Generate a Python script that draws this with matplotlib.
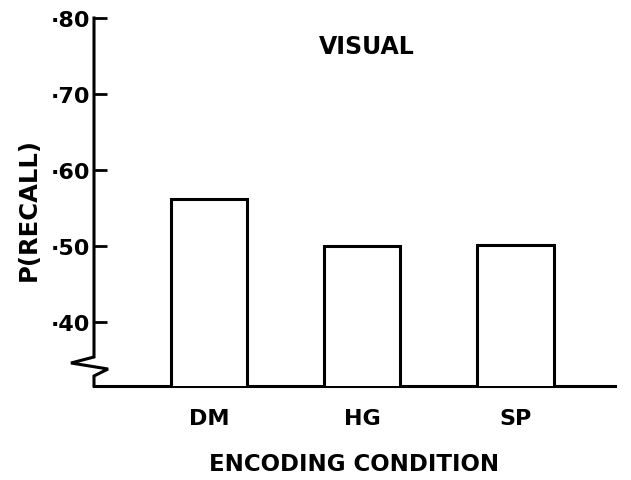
import matplotlib
matplotlib.use("Agg")
import matplotlib.pyplot as plt
import matplotlib.transforms as mtransforms

categories = ["DM", "HG", "SP"]
values = [0.562, 0.500, 0.501]
yticks = [0.40, 0.50, 0.60, 0.70, 0.80]
ytick_labels = ["·40", "·50", "·60", "·70", "·80"]

plt.rcParams['font.family'] = ['DejaVu Sans']
plt.rcParams['font.weight'] = 'bold'

fig = plt.figure(figsize=(6.31, 4.81), dpi=100)
ax = fig.add_axes([94/631, 1-387/481, (615-94)/631, (387-19)/481])

x = list(range(len(categories)))
ax.bar(x, values, width=0.5, facecolor='white', edgecolor='black', linewidth=2.2, zorder=3)

ax.set_xlim(-0.75, 2.65)
ax.set_ylim(0.3158, 0.80)

for s in ['top', 'right', 'left']:
    ax.spines[s].set_visible(False)
ax.spines['bottom'].set_linewidth(2.2)

# left axis with break squiggle
tr = mtransforms.blended_transform_factory(ax.transAxes, ax.transData)
H = 387 - 19
def yfrac(py):
    return 0.80 - (py - 19) / H * (0.80 - 0.3158)
W = 615 - 94
def xfrac(px):
    return (px - 94) / W
px = [94, 94, 71, 108, 94, 94]
py = [19, 358, 364, 370, 377, 387]
ax.plot([xfrac(p) for p in px], [yfrac(p) for p in py], transform=tr,
        color='black', lw=2.2, clip_on=False, solid_joinstyle='miter', zorder=4)

ax.set_yticks(yticks)
ax.set_yticklabels(ytick_labels, fontsize=16, fontweight='bold')
ax.tick_params(axis='y', direction='in', length=9, width=2, pad=3)
ax.set_xticks(x)
ax.set_xticklabels(categories, fontsize=16, fontweight='bold')
ax.tick_params(axis='x', length=0, pad=16)

ax.set_xlabel("ENCODING CONDITION", fontsize=16.5, fontweight='bold')
ax.xaxis.set_label_coords(0.5, -(465-387)/368)
ax.xaxis.label.set_va('center')
ax.set_ylabel("P(RECALL)", fontsize=17.5, fontweight='bold')
ax.yaxis.set_label_coords((29-94)/521, (387-210)/368)
ax.yaxis.label.set_va('center')
ax.text(1.03, 0.763, "VISUAL", fontsize=17, fontweight='bold', ha='center', va='center')

fig.savefig("out.png", dpi=100)
